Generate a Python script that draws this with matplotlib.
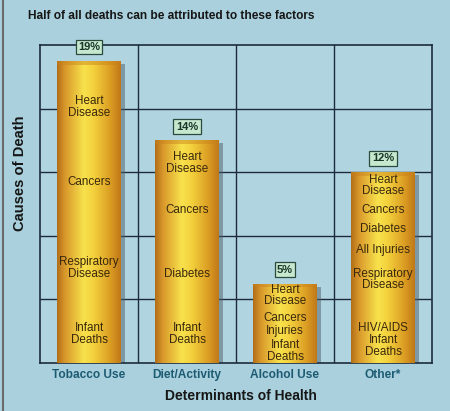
import numpy as np
import matplotlib
matplotlib.use("Agg")
import matplotlib.pyplot as plt
import matplotlib.transforms as mtransforms
from matplotlib.colors import LinearSegmentedColormap
from matplotlib.lines import Line2D

plt.rcParams['font.family'] = ['Liberation Sans', 'DejaVu Sans']

# Data
determinants = ["Tobacco Use", "Diet/Activity", "Alcohol Use", "Other*"]
shares = [19, 14, 5, 12]
causes = [
    ["Heart\nDisease", "Cancers", "Respiratory\nDisease", "Infant\nDeaths"],
    ["Heart\nDisease", "Cancers", "Diabetes", "Infant\nDeaths"],
    ["Heart\nDisease", "Cancers", "Injuries", "Infant\nDeaths"],
    ["Heart\nDisease", "Cancers", "Diabetes", "All Injuries",
     "Respiratory\nDisease", "HIV/AIDS\nInfant\nDeaths"],
]
# vertical placement of the cause labels inside each bar (axis units)
cause_pos = [
    [16.1, 11.4, 6.0, 1.8],
    [12.6, 9.6, 5.6, 1.8],
    [4.25, 2.83, 2.0, 0.75],
    [11.16, 9.62, 8.43, 7.1, 5.25, 1.45],
]

bg = '#a9d0dc'
fig = plt.figure(figsize=(4.5, 4.11), dpi=100, facecolor=bg)
ax = fig.add_axes([40/450, 1-363/411, 392/450, 318/411])
ax.set_facecolor('#b0d5e1')

x = np.arange(len(determinants))
width = 0.65
ax.set_xlim(-0.5, len(determinants)-0.5)
ax.set_ylim(0, 20)

# grid
for yv in [4, 8, 12, 16]:
    ax.axhline(yv, color='#1d2c3c', lw=1.0, zorder=1)
for xv in [0.5, 1.5, 2.5]:
    ax.axvline(xv, color='#1d2c3c', lw=1.0, zorder=1)
for s in ax.spines.values():
    s.set_color('#1d2c3c')
    s.set_linewidth(1.2)

cmap = LinearSegmentedColormap.from_list('gold', [
    (0.0, '#b06d18'), (0.12, '#d8972a'), (0.42, '#f8e24c'),
    (0.58, '#f3d03c'), (0.85, '#d99a22'), (1.0, '#bf7818')])

shadow_tr = mtransforms.offset_copy(ax.transData, fig=fig, x=4, y=-3, units='dots')
bars = ax.bar(x, shares, width=width, color='none', edgecolor='none', zorder=3)
for i, b in enumerate(bars):
    x0, w, h = b.get_x(), b.get_width(), b.get_height()
    sh = plt.Rectangle((x0, 0), w, h, transform=shadow_tr,
                       facecolor='#4e5e66', alpha=0.5, edgecolor='none', zorder=2)
    ax.add_patch(sh)
    grad = np.tile(np.linspace(0, 1, 256), (64, 1))
    im = ax.imshow(grad, cmap=cmap, extent=(x0, x0+w, 0, h), aspect='auto',
                   origin='lower', zorder=3, interpolation='bicubic')
    im.set_clip_path(b)
    # slightly darker rim along the top edge
    ax.add_patch(plt.Rectangle((x0, h-0.25), w, 0.25, facecolor='#c8801c',
                               alpha=0.45, edgecolor='none', zorder=4))
    ax.annotate(f"{shares[i]}%", (x[i], h), xytext=(0, 10), textcoords='offset points',
                ha='center', va='center', fontsize=8, fontweight='bold',
                color='#1a3628', zorder=6, annotation_clip=False,
                bbox=dict(boxstyle='square,pad=0.22', fc='#c6e8cf', ec='#2c4a3c', lw=0.9))
    for lab, yv in zip(causes[i], cause_pos[i]):
        ax.text(x[i], yv, lab, ha='center', va='center', fontsize=8.4,
                color='#3a280c', linespacing=0.98, zorder=5)

ax.set_xticks(x)
ax.set_xticklabels(determinants, fontsize=8.6, fontweight='bold', color='#1d5b73')
ax.tick_params(axis='x', length=0, pad=4)
ax.set_yticks([])

fig.text(28/450, 1-16/411, "Half of all deaths can be attributed to these factors",
         fontsize=8.6, fontweight='bold', color='#161616', va='center', ha='left')
fig.text(20/450, 1-173/411, "Causes of Death", rotation=90, fontsize=10.6,
         fontweight='bold', color='#161616', va='center', ha='center')
fig.text(241/450, 1-396/411, "Determinants of Health", fontsize=10,
         fontweight='bold', color='#161616', va='center', ha='center')
fig.add_artist(Line2D([2.5/450, 2.5/450], [0, 1], color='#6a6a6a', lw=1.5,
                      transform=fig.transFigure))

fig.savefig('out.png', dpi=100, facecolor=bg)
